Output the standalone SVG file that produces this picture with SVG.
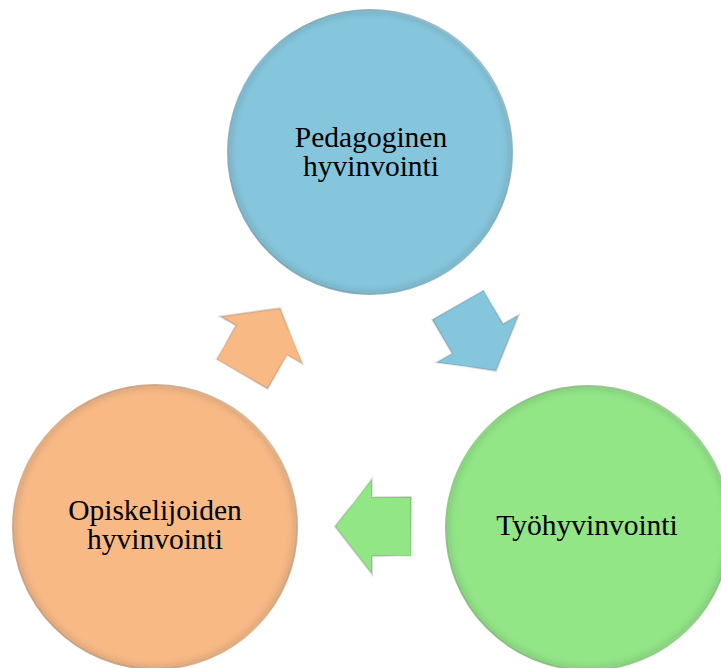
<svg xmlns="http://www.w3.org/2000/svg" width="721" height="668" viewBox="0 0 721 668">
<defs>
<linearGradient id="bevel" x1="0" y1="1" x2="1" y2="0">
<stop offset="0" stop-color="#000" stop-opacity="0.18"/>
<stop offset="0.5" stop-color="#000" stop-opacity="0.05"/>
<stop offset="1" stop-color="#fff" stop-opacity="0.55"/>
</linearGradient>
<radialGradient id="inner" cx="0.5" cy="0.5" r="0.5">
<stop offset="0.9" stop-color="#fff" stop-opacity="0"/>
<stop offset="0.965" stop-color="#000" stop-opacity="0.05"/>
<stop offset="1" stop-color="#fff" stop-opacity="0.25"/>
</radialGradient>
<path id="arr" d="M0,-29.5 L39,-29.5 L39,-47.5 L76,0 L39,47.5 L39,29.5 L0,29.5 Z"/>
</defs>
<style>
text{font-family:"Liberation Serif","Times New Roman",serif;font-size:29.5px;fill:#000;text-anchor:middle}
.ring{fill:none;stroke:url(#bevel);stroke-width:2}
.inner{stroke:none}
</style>
<rect width="721" height="668" fill="#fff"/>
<g id="connectors">
<g id="arrow-blue-green" transform="translate(458,305) rotate(60)">
<use href="#arr" fill="#85C6DD"/>
<use href="#arr" fill="none" stroke="url(#bevel)" stroke-width="2"/>
</g>
<g id="arrow-green-orange" transform="translate(411,526.5) rotate(180)">
<use href="#arr" fill="#92E686"/>
<use href="#arr" fill="none" stroke="url(#bevel)" stroke-width="2"/>
</g>
<g id="arrow-orange-blue" transform="translate(242,374) rotate(-60)">
<use href="#arr" fill="#F8B985"/>
<use href="#arr" fill="none" stroke="url(#bevel)" stroke-width="2"/>
</g>
</g>
<g id="node-pedagoginen">
<circle cx="370" cy="152" r="143" fill="#85C6DD"/>
<circle cx="370" cy="152" r="143" fill="url(#inner)" class="inner"/>
<circle cx="370" cy="152" r="142" class="ring"/>
<text x="371" y="147">Pedagoginen<tspan x="371" dy="29">hyvinvointi</tspan></text>
</g>
<g id="node-tyohyvinvointi">
<circle cx="588" cy="528" r="143" fill="#92E686"/>
<circle cx="588" cy="528" r="143" fill="url(#inner)" class="inner"/>
<circle cx="588" cy="528" r="142" class="ring"/>
<text x="587" y="535">Työhyvinvointi</text>
</g>
<g id="node-opiskelijoiden">
<circle cx="155" cy="527" r="143" fill="#F8B985"/>
<circle cx="155" cy="527" r="143" fill="url(#inner)" class="inner"/>
<circle cx="155" cy="527" r="142" class="ring"/>
<text x="155" y="520">Opiskelijoiden<tspan x="155" dy="29">hyvinvointi</tspan></text>
</g>
</svg>
